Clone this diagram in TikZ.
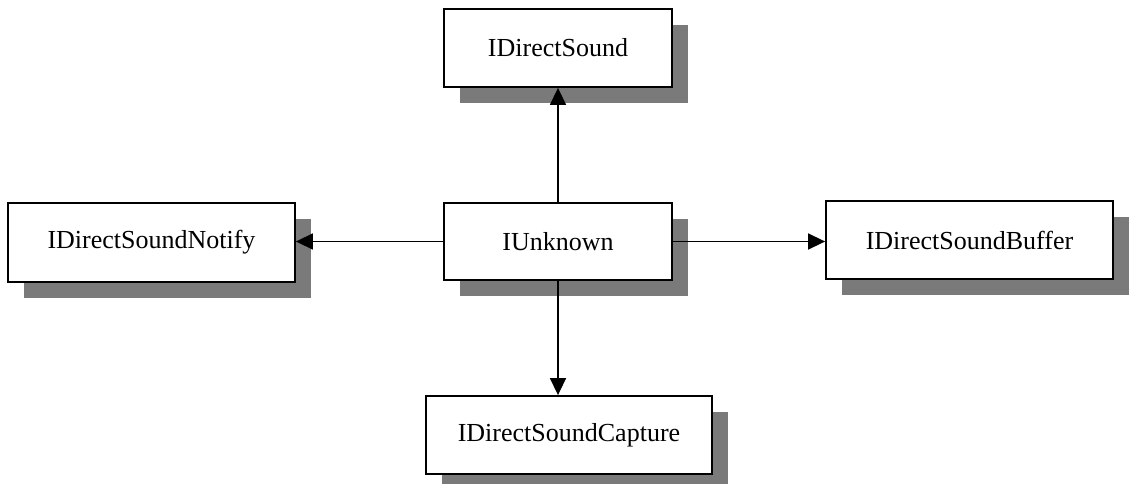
\documentclass[tikz,border=0pt]{standalone}
\usepackage{fontspec}
\setmainfont{Liberation Serif}
\usetikzlibrary{arrows.meta,shadows}
\begin{document}
\begin{tikzpicture}[x=1pt,y=-1pt,
  iface/.style={draw=black, line width=1.8pt, fill=white, rectangle,
    inner sep=0pt, font=\fontsize{26}{30}\selectfont,
    drop shadow={shadow xshift=16pt, shadow yshift=-16pt, fill=black!52, opacity=1}},
  link/.style={line width=1.5pt, -{Triangle[length=17pt,width=16pt]}}]
  \useasboundingbox[fill=white] (0,0) rectangle (1135,484);
  \node[iface, minimum width=228pt, minimum height=78pt] (ds) at (558,48) {IDirectSound};
  \node[iface, minimum width=287pt, minimum height=79pt] (notify) at (151.5,242.5) {IDirectSoundNotify};
  \node[iface, minimum width=228pt, minimum height=77pt] (unk) at (558,241.5) {IUnknown};
  \node[iface, minimum width=287pt, minimum height=78pt] (buf) at (969.5,240) {IDirectSoundBuffer};
  \node[iface, minimum width=286pt, minimum height=78pt] (cap) at (569,435) {IDirectSoundCapture};
  \draw[link] (unk.north) -- (ds.south);
  \draw[link] (unk.west) -- (unk.west -| notify.east);
  \draw[link] (unk.east) -- (unk.east -| buf.west);
  \draw[link] (unk.south) -- (unk.south |- cap.north);
\end{tikzpicture}
\end{document}
